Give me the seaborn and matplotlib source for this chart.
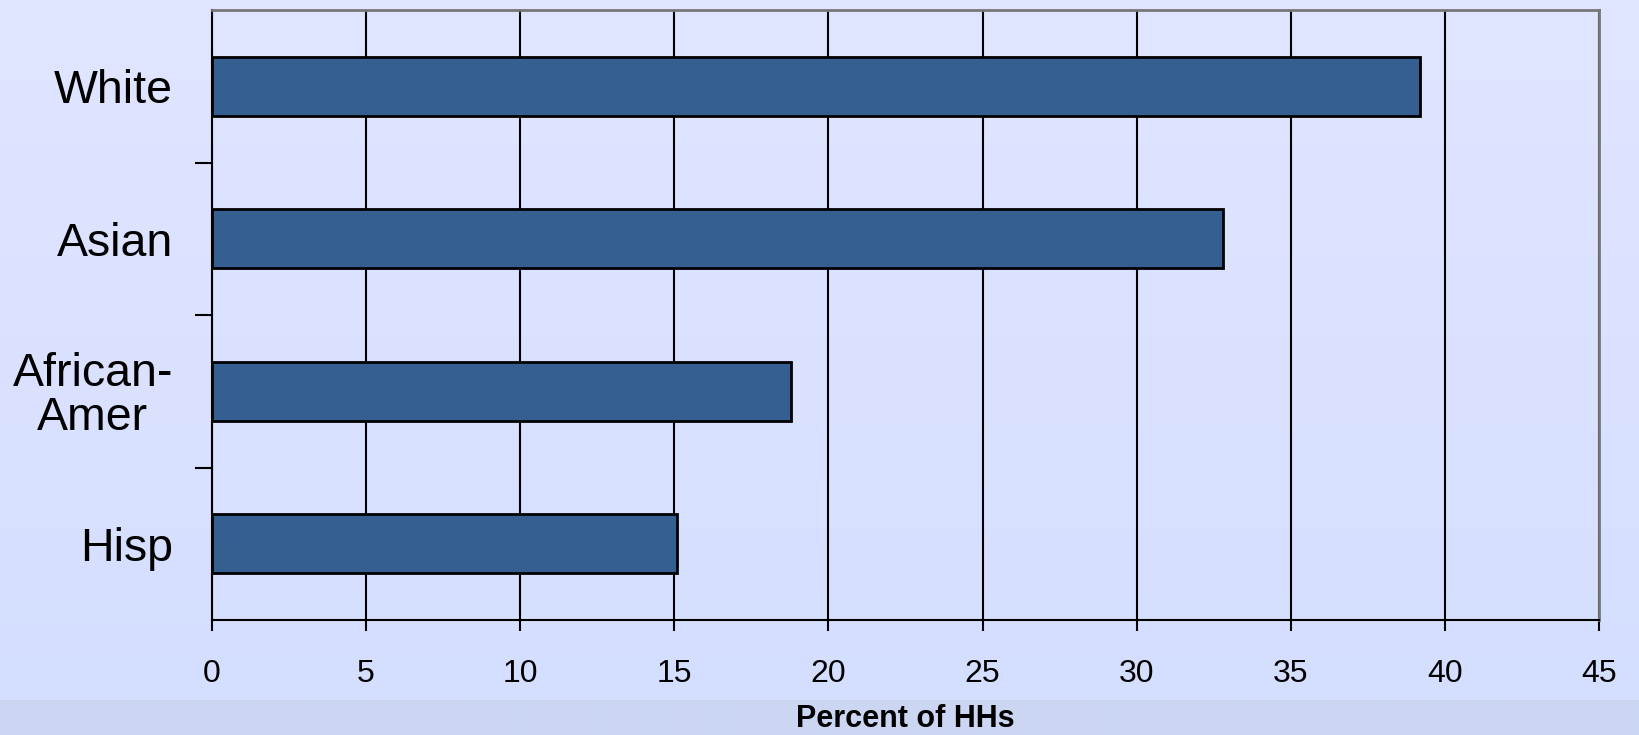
import numpy as np
import pandas as pd
import matplotlib
matplotlib.use("Agg")
import matplotlib.pyplot as plt
import seaborn as sns

groups = ["White", "Asian", "African-\nAmer", "Hisp"]
percent = [39.2, 32.8, 18.8, 15.1]
xticks = [0, 5, 10, 15, 20, 25, 30, 35, 40, 45]

df = pd.DataFrame({"group": groups, "pct": percent})

sns.set_style("white")
plt.rcParams["font.family"] = ["Liberation Sans", "DejaVu Sans"]
plt.rcParams["text.color"] = "black"
plt.rcParams["xtick.color"] = "black"
plt.rcParams["ytick.color"] = "black"
plt.rcParams["axes.labelcolor"] = "black"

fig = plt.figure(figsize=(16.4, 7.35), dpi=100)

# background gradient
bg = fig.add_axes([0, 0, 1, 1], zorder=-10)
grad = np.linspace(0, 1, 735).reshape(-1, 1)
top = np.array([0.88, 0.90, 1.0])
bot = np.array([0.83, 0.87, 1.0])
img = top + (bot - top) * grad[:, :, None]
band = grad[:, 0] > 700 / 735
img[band] = np.array([0.80, 0.84, 0.95])
bg.imshow(img, aspect="auto", extent=[0, 1, 0, 1])
bg.axis("off")

ax = fig.add_axes([212 / 1640, 1 - 620 / 735, (1599 - 212) / 1640, (620 - 10) / 735])
ax.set_facecolor("none")

sns.barplot(data=df, y="group", x="pct", orient="h", color="#355F91",
            saturation=1, width=0.39, edgecolor="black", linewidth=2,
            ax=ax, zorder=3)

ax.set_xlim(0, 45)
ax.set_xticks(xticks)
ax.set_xticklabels([str(t) for t in xticks])
ax.set_ylim(3.5, -0.5)
ax.grid(axis="x", color="black", linewidth=1.5, zorder=0)
ax.set_axisbelow(True)

for s in ["left", "bottom"]:
    ax.spines[s].set_color("black")
    ax.spines[s].set_linewidth(1.5)
for s in ["top", "right"]:
    ax.spines[s].set_color("#777777")
    ax.spines[s].set_linewidth(2)

ax.set_yticks([0.5, 1.5, 2.5], minor=True)
ax.tick_params(axis="y", which="major", length=0, pad=28, labelsize=33.5)
ax.tick_params(axis="y", which="minor", left=True, length=12, width=1.5, color="black")
ax.tick_params(axis="x", which="major", bottom=True, length=8, width=1.5,
               color="black", pad=20, labelsize=23)
for lbl in ax.get_yticklabels():
    lbl.set_multialignment("center")
    lbl.set_linespacing(1.0)

ax.set_ylabel("")
ax.set_xlabel("Percent of HHs", fontsize=22, fontweight="bold", labelpad=11)

fig.savefig("out.png", dpi=100)
